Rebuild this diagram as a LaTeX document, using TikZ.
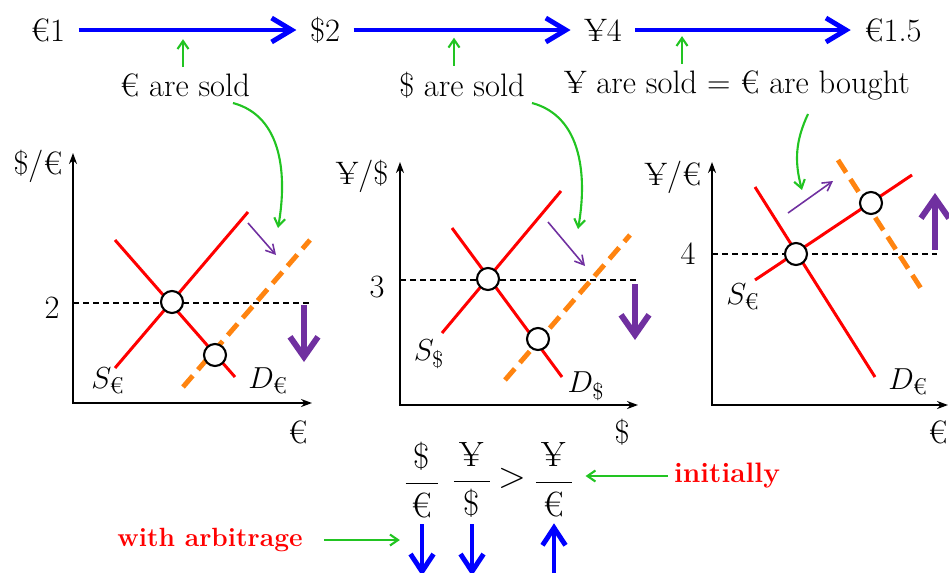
\documentclass[tikz,border=0pt]{standalone}
\usepackage{amsmath}
\usepackage{xcolor}
\usetikzlibrary{positioning, arrows.meta, calc}

\definecolor{arbblue}{HTML}{0000FF}
\definecolor{arbgreen}{HTML}{22C422}
\definecolor{arbred}{HTML}{FF0000}
\definecolor{arborange}{HTML}{FF8410}
\definecolor{arbpurple}{HTML}{7030A0}

\begin{document}
\begin{tikzpicture}[
    x=0.02cm, y=-0.02cm,
    font=\fontsize{18.5}{22}\selectfont,
    flow/.style={arbblue, line width=2.8pt, shorten <=0.15cm, shorten >=0.15cm,
        -{Straight Barb[length=0.4cm, width=0.48cm]}},
    change/.style={arbblue, line width=2.8pt, -{Straight Barb[length=0.35cm, width=0.46cm]}},
    note/.style={arbgreen, line width=1.2pt, -{Straight Barb[length=0.16cm, width=0.22cm]}},
    axis/.style={line width=1.2pt, {Stealth[length=0.22cm, width=0.16cm]}-{Stealth[length=0.22cm, width=0.16cm]}},
    level/.style={dashed, line width=0.6pt, dash pattern=on 3.4pt off 2.3pt},
    curve/.style={arbred, line width=1.7pt},
    shifted/.style={arborange, line width=2.8pt, dash pattern=on 8.5pt off 4.5pt},
    eqpt/.style={circle, draw, fill=white, line width=1.2pt, minimum size=0.44cm, inner sep=0pt},
    nudge/.style={arbpurple, line width=0.9pt, -{Straight Barb[length=0.18cm, width=0.2cm]}},
    move/.style={arbpurple, line width=3.4pt, -{Straight Barb[length=0.4cm, width=0.56cm]}},
    ratio/.style={font=\fontsize{20}{24}\selectfont},
    gain/.style={arbred, font=\fontsize{16}{19}\selectfont\bfseries}
]
    \useasboundingbox (0,0) rectangle (949,572);

    % chain of conversions
    \node (r1) at (48,30) {€1};
    \node (r2) at (325,30) {\$2};
    \node (r3) at (603,30) {¥4};
    \node (r4) at (893,30) {€1.5};
    \draw[flow] (r1) -- (r2);
    \draw[flow] (r2) -- (r3);
    \draw[flow] (r3) -- (r4);

    \node (soldE) at (185,85) {€ are sold};
    \node (soldD) at (462,85) {\$ are sold};
    \node (soldY) at (737,85) {¥ are sold = € are bought};
    \draw[note] ([xshift=-0.04cm]soldE.north) -- ++(0,-28);
    \draw[note] ([xshift=-0.16cm]soldD.north) -- ++(0,-28);
    \draw[note] ([xshift=-1.1cm]soldY.north) -- ++(0,-28);

    \coordinate (hitE) at (278,228);
    \coordinate (hitD) at (578,229);
    \coordinate (hitY) at (802,190);
    \draw[note] (233,103) to[out=-15, in=80] (hitE);
    \draw[note] (532,103) to[out=-15, in=80] (hitD);
    \draw[note] (808,114) to[out=-115, in=105] (hitY);

    % market for euros in dollars
    \draw[axis] (73,153) |- (312,403);
    \node (p1) at (38,166) {\$/€};
    \node (q1) at (298,432) {€};
    \node (v1) at (52,308) {2};
    \draw[level] (73,303) -- (312,303);
    \draw[curve] (115,368) -- (248,212);
    \draw[curve] (115,240) -- (235,377);
    \draw[shifted] (183,387) -- (310,240);
    \node[eqpt] (e1a) at (172,302) {};
    \node[eqpt] (e1b) at (215,355) {};
    \draw[nudge] (248,223) -- (276,255);
    \draw[move] (304,305) -- (304,362);
    \node (s1) at (108,381) {$S_{\text{€}}$};
    \node (d1) at (268,381) {$D_{\text{€}}$};

    % market for dollars in yen
    \draw[axis] (400,162) |- (638,405);
    \node (p2) at (362,176) {¥/\$};
    \node (q2) at (622,432) {\$};
    \node (v2) at (377,287) {3};
    \draw[level] (400,280) -- (637,280);
    \draw[curve] (442,333) -- (561,191);
    \draw[curve] (452,228) -- (562,377);
    \draw[shifted] (505,380) -- (630,235);
    \node[eqpt] (e2a) at (488,279) {};
    \node[eqpt] (e2b) at (538,339) {};
    \draw[nudge] (548,222) -- (585,266);
    \draw[move] (635,284) -- (635,340);
    \node (s2) at (429,354) {$S_{\text{\$}}$};
    \node (d2) at (586,386) {$D_{\text{\$}}$};

    % market for euros in yen
    \draw[axis] (712,162) |- (948,405);
    \node (p3) at (673,177) {¥/€};
    \node (q3) at (938,432) {€};
    \node (v3) at (688,254) {4};
    \draw[level] (712,254) -- (937,254);
    \draw[curve] (755,280) -- (912,175);
    \draw[curve] (755,187) -- (875,377);
    \draw[shifted] (838,160) -- (922,290);
    \node[eqpt] (e3a) at (796,254) {};
    \node[eqpt] (e3b) at (871,203) {};
    \draw[nudge] (788,213) -- (833,181);
    \draw[move] (935,250) -- (935,193);
    \node (s3) at (743,297) {$S_{\text{€}}$};
    \node (d3) at (908,382) {$D_{\text{€}}$};

    % cross rates
    \node[ratio] (fracA) at (422,480) {$\dfrac{\,\text{\$}\,}{\,\text{€}\,}$};
    \node[ratio] (fracB) at (472,480) {$\dfrac{\,\text{¥}\,}{\,\text{\$}\,}$};
    \node[ratio] (gt) at (512,478) {$>$};
    \node[ratio] (fracC) at (554,480) {$\dfrac{\,\text{¥}\,}{\,\text{€}\,}$};
    \node[gain] (init) at (727,476) {initially};
    \node[gain, font=\fontsize{15}{18}\selectfont\bfseries] (arb) at (210,540) {with arbitrage};
    \draw[note, shorten >=0.1cm] (init.west) -- (init.west -| fracC.east);
    \draw[note] ([xshift=0.3cm]arb.east) -- ++(76,0);

    \coordinate (endA) at (422,576);
    \coordinate (endB) at (472,576);
    \coordinate (endC) at (554,576);
    \draw[change] (fracA.south) -- (endA);
    \draw[change] (fracB.south) -- (endB);
    \draw[change] (endC) -- (fracC.south);
\end{tikzpicture}
\end{document}
